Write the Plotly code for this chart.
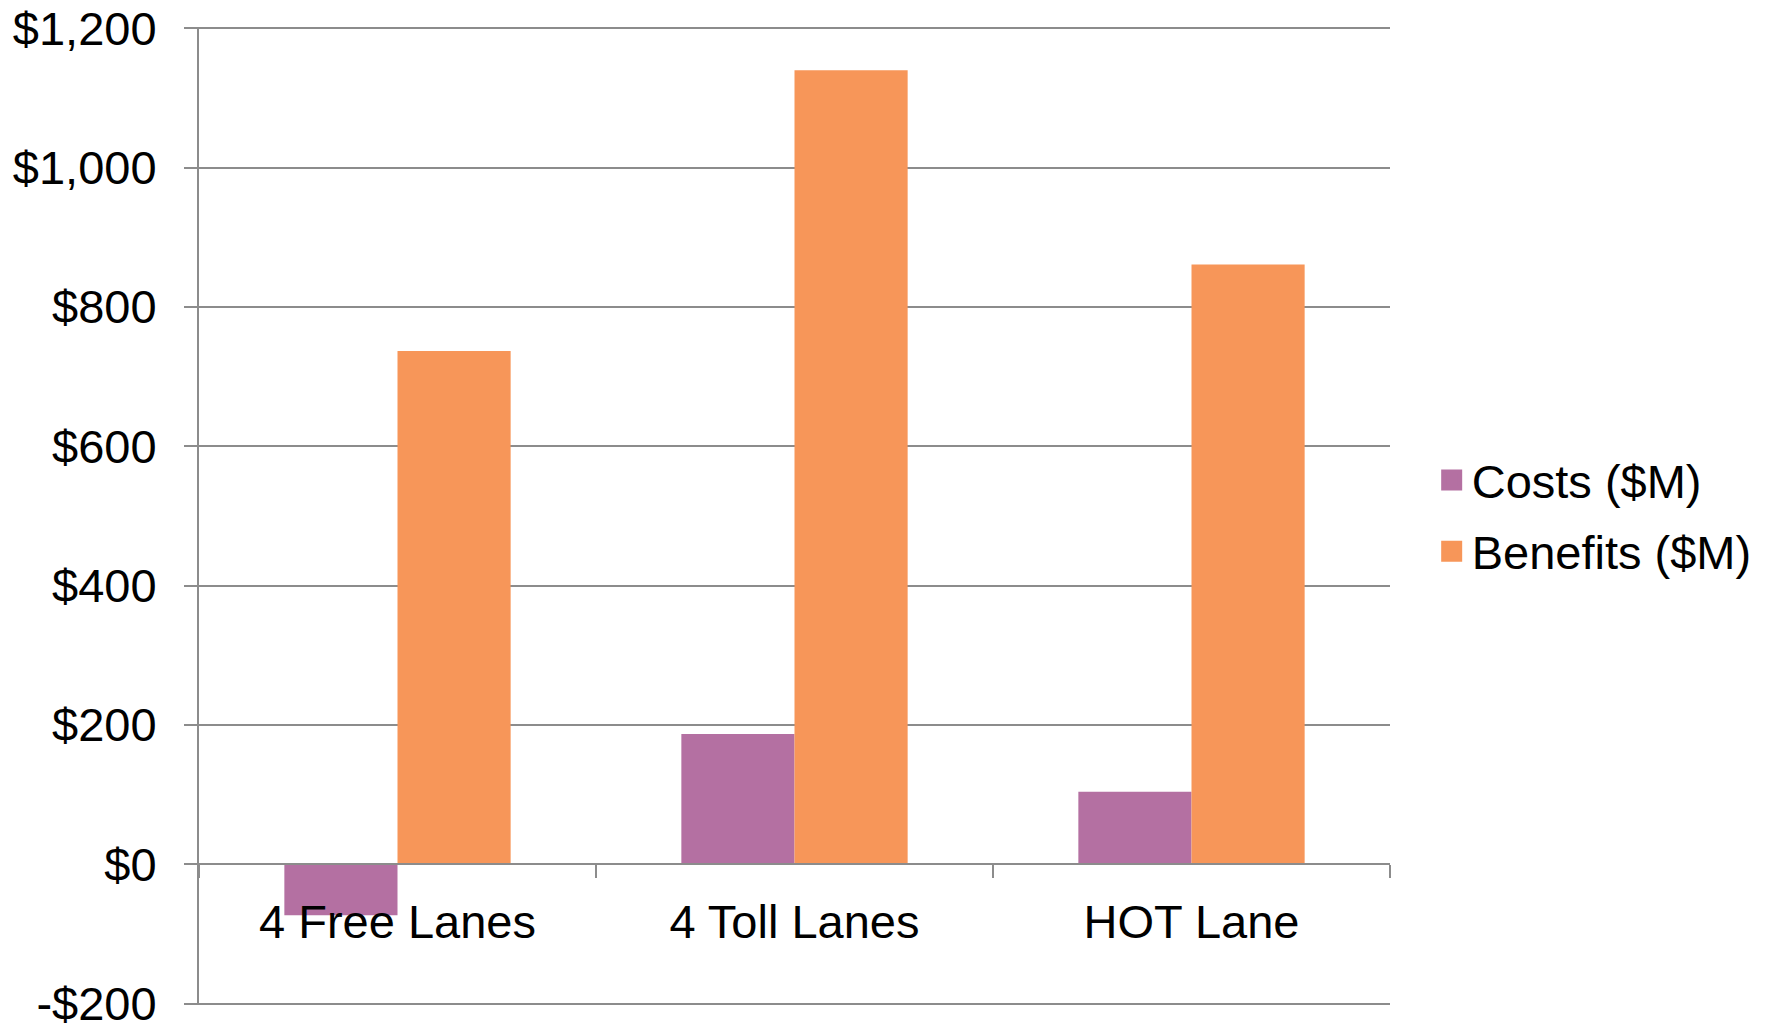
import plotly.graph_objects as go

# Scenario categories and values ($ millions)
categories = ["4 Free Lanes", "4 Toll Lanes", "HOT Lane"]
costs = [-73, 187, 104]
benefits = [737, 1140, 861]

series_names = ["Costs ($M)", "Benefits ($M)"]
series_colors = ["#B470A2", "#F79659"]

y_tick_vals = [-200, 0, 200, 400, 600, 800, 1000, 1200]
y_tick_text = ["-$200", "$0", "$200", "$400", "$600", "$800", "$1,000", "$1,200"]

FONT = "Liberation Sans, Arial, sans-serif"
GRID = "#8c8c8c"
# small padding so the end gridlines are kept inside the plotting area
Y_MIN, Y_MAX = -202, 1202

fig = go.Figure()
for name, vals, color in zip(series_names, [costs, benefits], series_colors):
    fig.add_trace(go.Bar(
        x=categories, y=vals, name=name,
        marker=dict(color=color, line=dict(width=0)),
        showlegend=False,
    ))
# square legend keys
for i, (name, color) in enumerate(zip(series_names, series_colors)):
    fig.add_trace(go.Scatter(
        x=[None], y=[None], mode="markers", name=name,
        marker=dict(symbol="square", size=16, color=color,
                    line=dict(color=color, width=5)),
        legendgroup=f"g{i}",
    ))

fig.update_layout(
    width=1777, height=1028,
    margin=dict(l=199, r=387, t=27, b=23, autoexpand=False),
    paper_bgcolor="white", plot_bgcolor="white",
    font=dict(family=FONT, size=47, color="black"),
    barmode="group", bargap=0.43, bargroupgap=0,
    legend=dict(
        x=1.035, y=0.5, xanchor="left", yanchor="middle",
        font=dict(size=47), tracegroupgap=7,
        bgcolor="rgba(0,0,0,0)",
    ),
)
fig.update_yaxes(
    range=[Y_MIN, Y_MAX], automargin=False,
    tickvals=y_tick_vals, ticktext=y_tick_text,
    ticklabeloverflow="allow",
    showgrid=True, gridcolor=GRID, gridwidth=2,
    zeroline=False,
    showline=True, linecolor=GRID, linewidth=2,
    ticks="outside", ticklen=13, tickcolor=GRID, tickwidth=2,
    ticklabelstandoff=18,
)
fig.update_xaxes(
    anchor="free", position=(0 - Y_MIN) / (Y_MAX - Y_MIN), automargin=False,
    showline=True, linecolor=GRID, linewidth=2,
    showgrid=False,
    ticks="outside", tickson="boundaries", ticklen=13,
    tickcolor=GRID, tickwidth=2,
    ticklabelstandoff=16,
)

fig.write_html("out.html")
